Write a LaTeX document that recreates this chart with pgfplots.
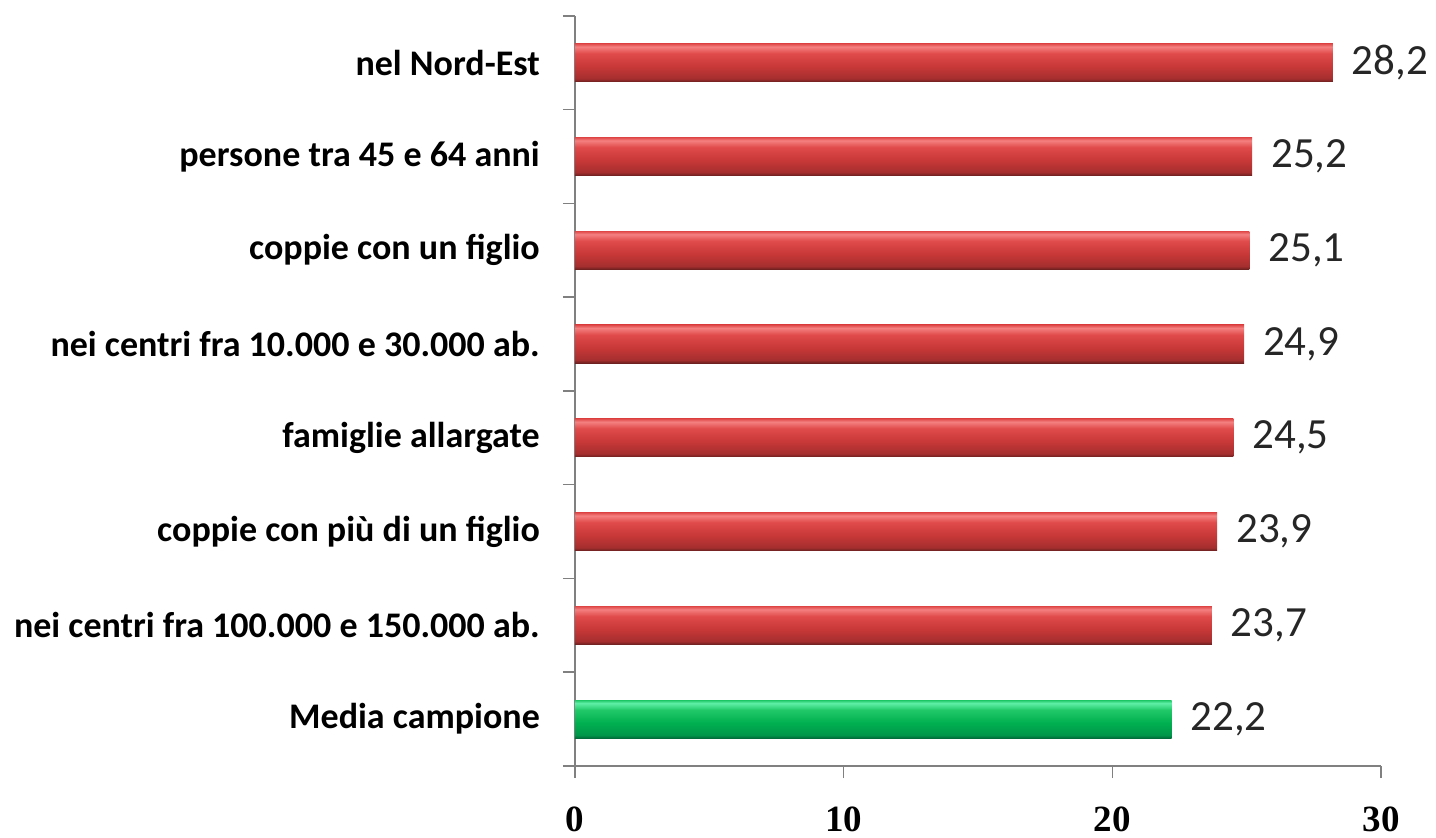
\documentclass[border=0pt]{standalone}
\usepackage{pgfplots}
\pgfplotsset{compat=1.18}
\usepackage{fontspec}
\setmainfont{Carlito}
\newfontfamily\tickfont{Liberation Serif}
\definecolor{rdk}{HTML}{6E2020}
\definecolor{rlo}{HTML}{A52E2E}
\definecolor{rmd}{HTML}{C83838}
\definecolor{rup}{HTML}{E04A4A}
\definecolor{rlt}{HTML}{F58080}
\definecolor{gdk}{HTML}{006B3A}
\definecolor{glo}{HTML}{00964A}
\definecolor{gmd}{HTML}{00B050}
\definecolor{gup}{HTML}{20C868}
\definecolor{glt}{HTML}{60F0A8}
\definecolor{axgray}{HTML}{808080}
\pgfdeclareverticalshading{redbar}{100bp}{color(0bp)=(rdk); color(25bp)=(rdk); color(29bp)=(rlo); color(45bp)=(rmd); color(62bp)=(rup); color(71bp)=(rlt); color(75bp)=(rup); color(100bp)=(rup)}
\pgfdeclareverticalshading{greenbar}{100bp}{color(0bp)=(gdk); color(25bp)=(gdk); color(29bp)=(glo); color(45bp)=(gmd); color(62bp)=(gup); color(71bp)=(glt); color(75bp)=(gup); color(100bp)=(gup)}
\pgfplotsset{redb/.style={shade, shading=redbar, draw=none}, greenb/.style={shade, shading=greenbar, draw=none}}
\begin{document}
\begin{tikzpicture}
\begin{axis}[
  scale only axis,
  width=403pt, height=375pt,
  xmin=0, xmax=30, ymin=-0.5, ymax=7.5,
  axis x line*=bottom, axis y line*=left,
  axis line style={axgray, line width=0.8pt},
  tick style={axgray, line width=0.8pt},
  tick align=outside,
  major tick length=6pt,
  xtick={0,10,20,30},
  ytick={-0.5,0.5,1.5,2.5,3.5,4.5,5.5,6.5,7.5},
  yticklabels={Media campione, nei centri fra 100.000 e 150.000 ab., coppie con più di un figlio, famiglie allargate, nei centri fra 10.000 e 30.000 ab., coppie con un figlio, persone tra 45 e 64 anni, nel Nord-Est, {}},
  yticklabel style={font=\fontsize{18}{21}\selectfont\bfseries, yshift=23.44pt, xshift=-8pt, anchor=east},
  xticklabel style={font=\fontsize{18.5}{21}\selectfont\tickfont\bfseries, yshift=-11pt},
  /pgf/number format/assume math mode=true,
  xbar, bar width=19pt, bar shift=0pt,
  nodes near coords={\pgfmathprintnumber[use comma, fixed, precision=1, fixed zerofill]{\pgfplotspointmeta}},
  nodes near coords style={anchor=west, xshift=6pt, font=\fontsize{21.5}{24}\selectfont, text=black!85},
  clip=false,
]
\addplot[greenb] coordinates {(22.2,0)};
\addplot[redb] coordinates {(23.7,1)};
\addplot[redb] coordinates {(23.9,2)};
\addplot[redb] coordinates {(24.5,3)};
\addplot[redb] coordinates {(24.9,4)};
\addplot[redb] coordinates {(25.1,5)};
\addplot[redb] coordinates {(25.2,6)};
\addplot[redb] coordinates {(28.2,7)};
\coordinate (bl) at (rel axis cs:-0.713,-0.0947);
\coordinate (tr) at (rel axis cs:1.068,1.021);
\end{axis}
\pgfresetboundingbox
\useasboundingbox (bl) rectangle (tr);
\end{tikzpicture}
\end{document}
